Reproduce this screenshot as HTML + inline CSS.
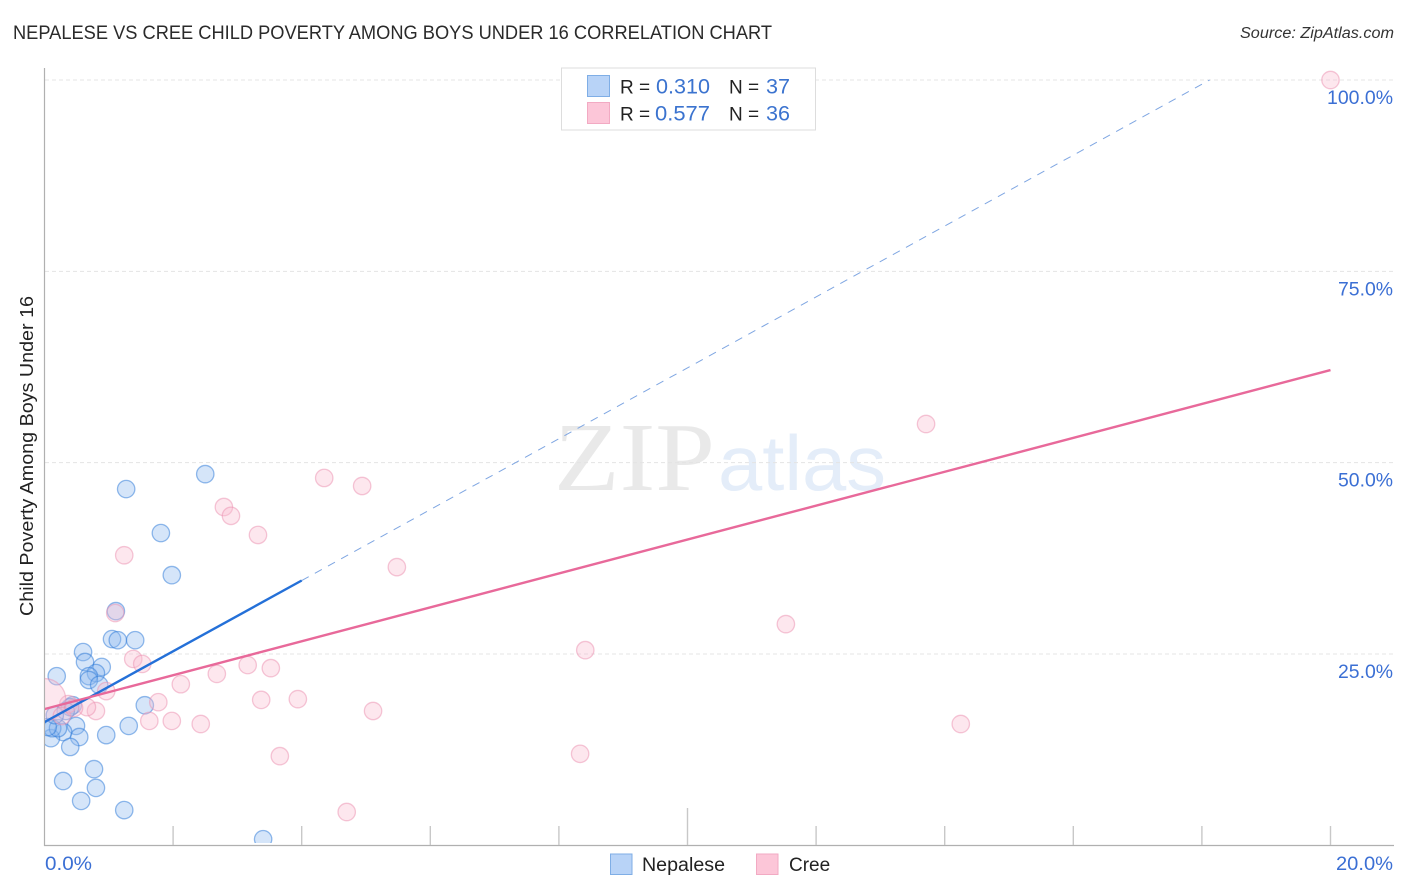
<!DOCTYPE html>
<html lang="en">
<head>
<meta charset="utf-8">
<title>Nepalese vs Cree Child Poverty Among Boys Under 16 Correlation Chart</title>
<style>
html,body{margin:0;padding:0;background:#fff;}
svg{display:block;font-family:"Liberation Sans",sans-serif;}
</style>
</head>
<body>
<svg id="chart" width="1406" height="892" viewBox="0 0 1406 892" xmlns="http://www.w3.org/2000/svg">
  <defs>
    <clipPath id="plot-clip"><rect x="45" y="68" width="1349" height="775"/></clipPath>
  </defs>
  <rect x="0" y="0" width="1406" height="892" fill="#fff"/>
  <text x="13" y="39" font-size="19" fill="#2a2a2a" textLength="759" lengthAdjust="spacingAndGlyphs">NEPALESE VS CREE CHILD POVERTY AMONG BOYS UNDER 16 CORRELATION CHART</text>
  <text x="1240" y="38" font-size="15.5" font-style="italic" fill="#333" textLength="154" lengthAdjust="spacingAndGlyphs">Source: ZipAtlas.com</text>
  <g>
    <text x="554" y="490" font-family="'Liberation Serif',serif" font-size="98" fill="#e9e9e9" textLength="161" lengthAdjust="spacingAndGlyphs">ZIP</text>
    <text x="718" y="490" font-size="78" fill="#e4edf9" textLength="168" lengthAdjust="spacingAndGlyphs">atlas</text>
  </g>
  <g id="grid"></g>
  <g id="axes"></g>
  <g id="marks" clip-path="url(#plot-clip)"></g>
  <g id="ylabels"></g>
  <text x="45" y="870" font-size="19" fill="#3b6fd4" textLength="47" lengthAdjust="spacingAndGlyphs">0.0%</text>
  <text x="1336" y="870" font-size="19" fill="#3b6fd4" textLength="57" lengthAdjust="spacingAndGlyphs">20.0%</text>
  <text transform="translate(33,456) rotate(-90)" font-size="18.5" fill="#222" text-anchor="middle" textLength="320" lengthAdjust="spacingAndGlyphs">Child Poverty Among Boys Under 16</text>

  <g>
    <rect x="561.5" y="68" width="254" height="62" fill="#fff" stroke="#ddd" stroke-width="1"/>
    <rect x="587.5" y="75.5" width="22" height="21" fill="#b8d3f7" stroke="#7faee6" stroke-width="1"/>
    <rect x="587.5" y="102.5" width="22" height="21" fill="#fcc6d8" stroke="#f2aac3" stroke-width="1"/>
    <text x="620" y="93.5" font-size="19" fill="#222">R =</text>
    <text x="656" y="93.5" font-size="21" fill="#3b73cf" textLength="54" lengthAdjust="spacingAndGlyphs">0.310</text>
    <text x="729" y="93.5" font-size="19" fill="#222">N =</text>
    <text x="766" y="93.5" font-size="21" fill="#3b73cf" textLength="24" lengthAdjust="spacingAndGlyphs">37</text>
    <text x="620" y="120.5" font-size="19" fill="#222">R =</text>
    <text x="655" y="120.5" font-size="21" fill="#3b73cf" textLength="55" lengthAdjust="spacingAndGlyphs">0.577</text>
    <text x="729" y="120.5" font-size="19" fill="#222">N =</text>
    <text x="766" y="120.5" font-size="21" fill="#3b73cf" textLength="24" lengthAdjust="spacingAndGlyphs">36</text>
  </g>

  <g>
    <rect x="610.5" y="854" width="21.5" height="20.5" fill="#b8d3f7" stroke="#7faee6" stroke-width="1"/>
    <text x="642" y="871" font-size="19" fill="#222" textLength="83" lengthAdjust="spacingAndGlyphs">Nepalese</text>
    <rect x="756.5" y="854" width="21.5" height="20.5" fill="#fcc6d8" stroke="#f2aac3" stroke-width="1"/>
    <text x="789" y="871" font-size="19" fill="#222">Cree</text>
  </g>
</svg>
<script>
// Data (x = Nepalese/Cree share %, y = child poverty %)
const yTickValues = [25, 50, 75, 100];
const yTickLabels = ["25.0%", "50.0%", "75.0%", "100.0%"];
const xTickValues = [2, 4, 6, 8, 10, 12, 14, 16, 18, 20];
const nepaleseX = [1.11,1.05,1.14,1.41,0.60,0.63,0.89,0.80,0.69,0.69,0.85,0.19,0.44,0.40,0.33,1.56,1.31,0.49,0.96,0.54,0.29,0.40,0.10,0.12,0.21,0.05,0.77,0.29,0.80,0.57,1.24,3.40,1.27,2.50,1.81,1.98,0.16];
const nepaleseY = [30.6,26.95,26.8,26.8,25.25,23.95,23.3,22.5,22.1,21.6,20.95,22.1,18.3,18.05,17.55,18.3,15.6,15.6,14.4,14.15,14.8,12.85,14.0,15.3,15.3,15.45,9.95,8.4,7.5,5.8,4.6,0.8,46.55,48.5,40.8,35.3,17.0];
const creeX = [20.0,13.71,4.35,4.94,2.79,2.90,3.32,1.24,5.48,1.10,11.53,8.41,1.38,1.52,3.16,3.52,2.68,2.12,0.96,3.37,3.94,1.77,5.11,0.80,0.66,0.37,1.63,1.98,2.43,14.25,3.66,8.33,4.70,0,0.27,0.46];
const creeY = [100,55.05,48,46.95,44.2,43.05,40.55,37.9,36.35,30.35,28.9,25.5,24.35,23.7,23.55,23.15,22.4,21.05,20.15,19,19.1,18.7,17.55,17.55,18.05,18.45,16.25,16.25,15.85,15.85,11.65,11.95,4.35,19,16.9,17.95];
const creeWeights = [1,1,1,1,1,1,1,1,1,1,1,1,1,1,1,1,1,1,1,1,1,1,1,1,1,1,1,1,1,1,1,1,1,6,1,1];
const nepaleseFitX = [0, 4];
const nepaleseFitY = [16.1, 34.6];
const nepaleseDashX = [4, 18.12];
const nepaleseDashY = [34.6, 100];
const creeFitX = [0, 20];
const creeFitY = [17.8, 62.1];

// Axis functions
const NS = "http://www.w3.org/2000/svg";
function xScale(v) { return 44.5 + 64.3 * v; }
function yScale(v) { return 845.3 - 7.653 * v; }
function make(tag, attrs, parent) {
  const el = document.createElementNS(NS, tag);
  for (const k in attrs) el.setAttribute(k, attrs[k]);
  parent.appendChild(el);
  return el;
}
const grid = document.getElementById("grid");
const axes = document.getElementById("axes");
const marks = document.getElementById("marks");
const ylabels = document.getElementById("ylabels");

yTickValues.forEach(function (v, i) {
  const line = make("line", {x1: 45, x2: 1393, y1: yScale(v), y2: yScale(v), stroke: "#e4e4e4", "stroke-width": 1, "stroke-dasharray": "4 3"}, grid);
  
  
  const label = make("text", {x: 1393, y: yScale(v) + 24, "font-size": 19, fill: "#3b6fd4", "text-anchor": "end", textLength: 11 * yTickLabels[i].length, lengthAdjust: "spacingAndGlyphs"}, ylabels);
  
  
  label.textContent = yTickLabels[i];
});

const yAxis = make("line", {x1: 44.5, x2: 44.5, y1: 68, y2: 846, stroke: "#b0b0b0", "stroke-width": 1.2}, axes);


const xAxis = make("line", {x1: 44, x2: 1394, y1: 845.5, y2: 845.5, stroke: "#b0b0b0", "stroke-width": 1.2}, axes);


xTickValues.forEach(function (v) {
  const top = v === 10 ? 808 : 826;
  const tick = make("line", {x1: xScale(v), x2: xScale(v), y1: top, y2: 845, stroke: "#c8c8c8", "stroke-width": 1.4}, axes);
  
  
});

function drawPoints(xs, ys, fill, stroke, weights) {
  xs.forEach(function (x, i) {
    const w = weights ? weights[i] : 1;
    const c = make("circle", {cx: xScale(x), cy: yScale(ys[i]), r: 8.7 * Math.sqrt(w), fill: fill, "fill-opacity": 0.36, stroke: stroke, "stroke-opacity": 0.5, "stroke-width": 1.3}, marks);
    
    
  });
}
drawPoints(nepaleseX, nepaleseY, "#8ab6ef", "#2a78d8");
drawPoints(creeX, creeY, "#f9bcd0", "#ec8fb0", creeWeights);

const dash = make("line", {x1: xScale(nepaleseDashX[0]), y1: yScale(nepaleseDashY[0]), x2: xScale(nepaleseDashX[1]), y2: yScale(nepaleseDashY[1]), stroke: "#7fa6e2", "stroke-width": 1, "stroke-dasharray": "8 7"}, marks);


const blue = make("line", {x1: xScale(nepaleseFitX[0]), y1: yScale(nepaleseFitY[0]), x2: xScale(nepaleseFitX[1]), y2: yScale(nepaleseFitY[1]), stroke: "#2470d8", "stroke-width": 2.4}, marks);


const pink = make("line", {x1: xScale(creeFitX[0]), y1: yScale(creeFitY[0]), x2: xScale(creeFitX[1]), y2: yScale(creeFitY[1]), stroke: "#e8699a", "stroke-width": 2.4}, marks);


</script>
</body>
</html>
